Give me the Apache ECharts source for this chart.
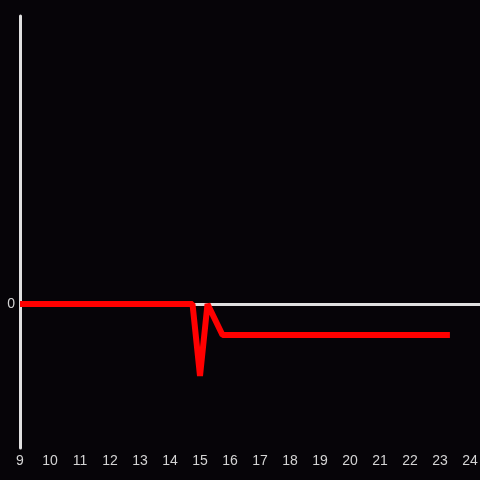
<!DOCTYPE html>
<html>
<head>
<meta charset="utf-8">
<script src="https://cdn.jsdelivr.net/npm/echarts@6/dist/echarts.min.js"></script>
<style>
  html, body { margin: 0; padding: 0; background: #060408; }
  #chart { width: 480px; height: 480px; }
</style>
</head>
<body>
<div id="chart"></div>
<script>
// hour of day and value
const hours = [9, 14.75, 15, 15.25, 15.75, 23.33]
const values = [0, 0, -0.5, 0, -0.215, -0.215]
const xTicks = [9, 10, 11, 12, 13, 14, 15, 16, 17, 18, 19, 20, 21, 22, 23, 24]

const axisColor = '#e0e0e0'
const labelColor = '#d4d4d4'

const chart = echarts.init(document.getElementById('chart'))

const option = {
  backgroundColor: '#060408',
  animation: false,
  grid: { left: 20, right: 0, top: 16, bottom: 32, outerBoundsMode: 'none' },
  xAxis: {
    type: 'value',
    min: xTicks[0],
    max: 24.333,
    interval: 1,
    axisLine: { show: false },
    axisTick: { show: false },
    splitLine: { show: false },
    axisLabel: {
      color: labelColor,
      fontSize: 14,
      fontFamily: 'Liberation Sans, Arial, sans-serif',
      margin: 6,
      formatter: (v) => xTicks.includes(v) ? String(v) : ''
    }
  },
  yAxis: {
    type: 'value',
    min: -1,
    max: 2,
    interval: 1,
    axisLine: { show: true, lineStyle: { color: axisColor, width: 3 } },
    axisTick: { show: false },
    splitLine: { show: false },
    axisLabel: {
      color: labelColor,
      fontSize: 14,
      fontFamily: 'Liberation Sans, Arial, sans-serif',
      margin: 5,
      formatter: (v) => v === 0 ? '0' : ''
    }
  },
  series: [
    {
      // zero line, drawn under the data line
      type: 'line',
      data: [],
      z: 1,
      markLine: {
        z: 1,
        silent: true,
        symbol: 'none',
        label: { show: false },
        lineStyle: { color: axisColor, width: 3, type: 'solid' },
        data: [{ yAxis: 0 }]
      }
    },
    {
      type: 'line',
      z: 3,
      data: hours.map((h, i) => [h, values[i]]),
      showSymbol: false,
      lineStyle: { color: '#ff0000', width: 6, join: 'bevel', cap: 'butt' }
    }
  ]
}

chart.setOption(option)
</script>
</body>
</html>
